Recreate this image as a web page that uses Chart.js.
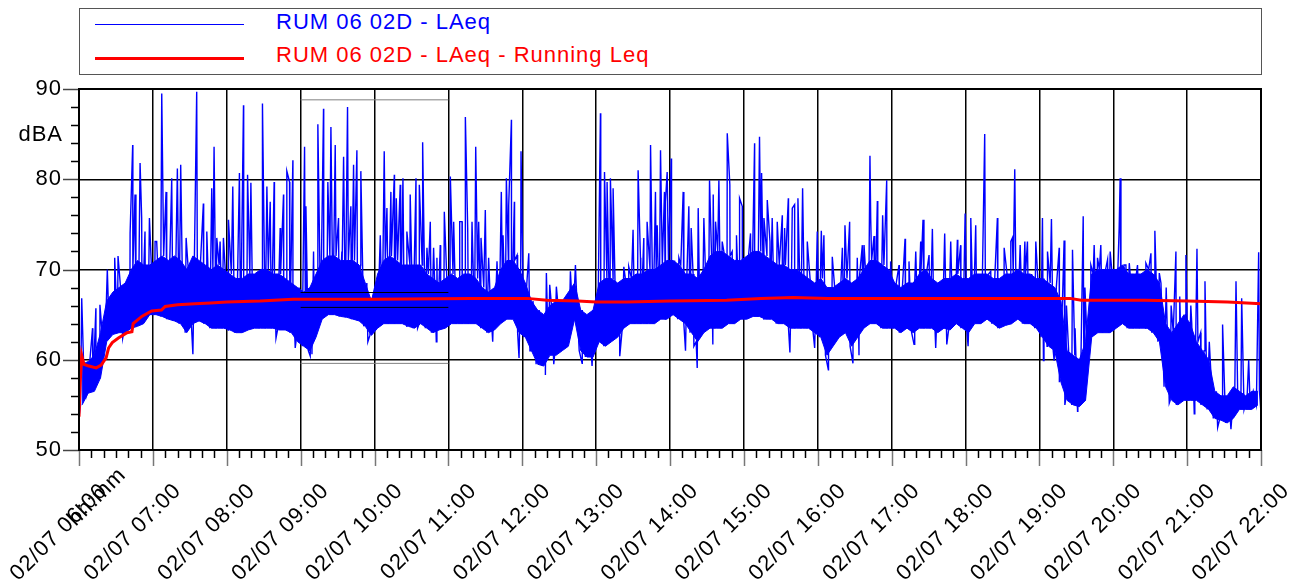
<!DOCTYPE html>
<html>
<head>
<meta charset="utf-8">
<script src="https://cdn.jsdelivr.net/npm/chart.js@4.4.1/dist/chart.umd.min.js"></script>
<style>
  body { margin: 0; background: #fff; font-family: "Liberation Sans", Arial, sans-serif; }
  #wrap { position: relative; width: 1297px; height: 579px; }
  #legend { position: absolute; left: 79px; top: 8px; width: 1181px; height: 65px; border: 1px solid #555; background: #fff; }
  .key { position: absolute; left: 15px; width: 149px; }
  .lbl { position: absolute; left: 196px; font-size: 22px; letter-spacing: 1px; line-height: 26px; white-space: nowrap; }
</style>
</head>
<body>
<div id="wrap">
  <canvas id="chart" width="1297" height="579"></canvas>
  <div id="legend">
    <div class="key" style="top:15px;height:1px;background:#0000ff"></div>
    <div class="lbl" style="top:0px;color:#0000ff">RUM 06 02D - LAeq</div>
    <div class="key" style="top:48px;height:3px;background:#ff0000"></div>
    <div class="lbl" style="top:33px;color:#ff0000">RUM 06 02D - LAeq - Running Leq</div>
  </div>
</div>
<script>
// minutes after 02/07 06:00, one slot = 5 minutes
var slotMinutes = 5;

var tickLabels = ['02/07 06:00', '02/07 07:00', '02/07 08:00', '02/07 09:00', '02/07 10:00',
    '02/07 11:00', '02/07 12:00', '02/07 13:00', '02/07 14:00', '02/07 15:00', '02/07 16:00',
    '02/07 17:00', '02/07 18:00', '02/07 19:00', '02/07 20:00', '02/07 21:00', '02/07 22:00'];

// bottom / top of the dense LAeq band, per 5 min slot (one row per hour)
var bandLow = [
    55, 56.3, 56.5, 58, 62, 62.8, 63, 63, 63.5, 63.7, 64, 65,
    65, 64.8, 64.5, 64.3, 64, 63, 64, 64.3, 64, 63.5, 63.5, 63.5,
    63.3, 63, 63, 63.3, 63.5, 63.5, 63.5, 63.5, 63.3, 63.3, 63, 62,
    61.5, 61, 62.5, 64.5, 65, 65, 64.8, 64.7, 64.5, 64.3, 63.7, 62.7,
    63.5, 64, 64, 64, 64, 63.7, 63.5, 64, 63.5, 63, 63.3, 63.5,
    64, 64, 64, 64, 64, 63.5, 63, 63.3, 64, 64.5, 64.5, 63,
    62.5, 61, 59.5, 59.3, 60.5, 60.5, 61, 61.5, 64.5, 61, 60.3, 60.3,
    62, 61.5, 62, 62.5, 63.5, 64, 64, 64, 64, 64, 64.5, 64.5,
    65, 64.5, 64, 63, 62, 63, 63.5, 63.5, 63.5, 64, 64, 64.5,
    64.5, 64.8, 64.8, 64.5, 64.5, 64, 64, 63.5, 63.5, 63.5, 63.5, 63,
    62.5, 60.5, 61.5, 62.5, 63, 61.5, 62.5, 63.5, 64, 64, 63.5, 63.5,
    63.5, 63, 63.5, 63, 63.5, 63.5, 63.5, 63, 63.5, 63.3, 64, 63.5,
    63, 64, 64, 64.5, 64, 63.5, 63.8, 64, 64.5, 64, 64, 63.5,
    62.5, 61.5, 61, 57.5, 55.5, 55, 54.8, 55.5, 62.5, 63, 63, 63,
    63.5, 64, 63.5, 63.5, 63.5, 63.5, 63, 62, 57, 55.5, 55, 55.5,
    55.5, 55.5, 55, 54.5, 53.5, 53.3, 53, 53.5, 54.5, 54.5, 54.5, 55
];
var bandHigh = [
    59.5, 59.8, 60.5, 63, 66.5, 67.5, 68, 68.5, 70, 71, 70.5, 70.5,
    71, 71.5, 71, 71.5, 71, 70, 71.5, 71, 70.5, 70, 70.5, 70,
    69.5, 69, 69, 69.5, 69.5, 70, 70, 69.5, 69.5, 69, 68.5, 68,
    67.5, 68, 69.5, 71, 71.5, 71.5, 71, 71, 71, 70.5, 68.5, 66.5,
    69.5, 71, 71.5, 71, 70.5, 70.5, 70.5, 70.5, 69.5, 69, 68.5, 69,
    69.5, 69, 69.5, 69.5, 69, 68, 67.5, 68, 70, 71, 71, 70,
    68.5, 66.5, 65.5, 65, 66, 66.5, 66.5, 67.5, 68.5, 65.5, 65, 65.5,
    68.5, 69, 69, 68.5, 69, 69, 69.5, 69.5, 70, 70, 70.5, 71,
    71, 70.5, 69.5, 69.5, 69, 70, 71.5, 72, 72, 71.5, 71, 71,
    71.5, 72, 72, 71.5, 71, 70.5, 70.5, 70, 70, 69.5, 69, 68.5,
    69, 68, 68, 68.5, 69, 68.5, 69, 70, 71, 71, 70.5, 70,
    68.5, 68, 68.5, 68.5, 69.5, 70, 69, 68.5, 69, 69, 69.5, 69,
    69, 69.5, 69.5, 69.5, 69, 69, 69.5, 69.5, 70, 69.5, 69.5, 69,
    69, 68.5, 68, 66.5, 61, 60.5, 60, 62, 69.5, 70, 70, 70,
    70, 70.5, 69.5, 69.5, 69.5, 70, 69.5, 68.5, 64, 63, 64, 65,
    64, 62, 61, 60, 56.5, 56, 56, 57, 56.5, 56, 56.5, 56.5
];

// single peaks above the band
var spikeTimes = [
    2.2, 11, 13.7, 17, 23, 29, 31.7, 41.5, 43.6, 45.5, 49.6, 50.9, 53.6, 57.2,
    61.8, 63.1, 67.2, 70.7, 75.3, 79.9, 82.6, 87, 95.6, 101, 103.8, 107.8, 109.7, 111.9, 114.6, 117.3,
    121.4, 124.9, 130.3, 133.6, 136.9, 139.6, 149, 152.6, 155.3, 158.5, 163.4, 166.1, 168.8, 171, 173.7,
    183.2, 184.3, 190.5, 194, 198.6, 202.1, 204.6, 208.1, 210.8, 213.5, 214.9, 218.1, 220.8, 223, 225.7, 228.9, 233.8,
    244.7, 247.9, 250.1, 253.3, 256.1, 257.7, 260.9, 263.1, 266.3, 269, 273.7, 276.4, 279.1, 279.9, 282.6, 285.3, 288, 290.7, 293.4, 296.7,
    301.6, 304.3, 309.2, 311.1, 313.8, 315.7, 319.2, 322.2, 324.6, 326.5, 330, 332.7, 339.5, 343, 344.4, 347.1, 349, 351.2, 353.6, 355.8, 359,
    365.3, 379.6, 382.3, 387.7, 399.1, 403.2,
    423.5, 426.8, 428.9, 431.6, 433.8, 442.5, 446.5, 450, 454.1, 456, 458.7, 461.4, 464.2, 468.2, 469.6, 472.3, 475.5, 476.3, 477.7,
    481, 487.2, 490.7, 495.3, 497.2, 502.9, 507.5, 512.1, 515.1, 517, 519.7, 522.4, 526.5, 528.6, 530.5, 534, 536.5, 538.7,
    543.3, 545.4, 548.7, 552.7, 554.4, 556.3, 559, 561.2, 563, 567.1, 571.2, 573.1, 576.1, 579.3, 581.2, 583.9, 587.7, 591.5, 599.6,
    602.9, 605, 611.8, 620, 622.1, 625.9, 632.1, 636.2, 637.6, 642.4, 643, 645.7, 648.4, 652.7, 656, 659.2,
    666, 670.9, 674.1, 679.6, 683.6, 685.5, 690.4, 693.1, 703.1, 708, 713.4, 716.1, 719.7,
    724.3, 728.3, 735.6, 740.5, 745.9, 751.4, 756.8, 758.1, 760, 764.4, 768.2, 770.3, 777.1,
    782.5, 786.6, 789.8, 796.1, 800.1, 802, 806.9, 809, 815.6, 817, 821.8, 824.5, 827.2, 829.9, 835.4, 837.5,
    844.8, 845.6, 850.3, 853, 859.7, 866.5, 870.6, 873.8, 877.4, 883, 887, 890.9, 894, 899,
    903, 908, 911, 914.5, 918, 928.8, 939.7, 944.3, 950, 958.1
];
var spikeValues = [
    66.8, 63.5, 65.7, 66.1, 70, 71.3, 71.5, 74, 83.8, 78.3, 81.8, 75.7, 74.2, 75.7,
    73.1, 73.1, 89.5, 78.6, 80.1, 81.2, 81.6, 73.5, 89.7, 77.3, 74.2, 79, 83.6, 73.5, 73.1, 73.5,
    75.5, 79.2, 80.7, 88.2, 80.5, 79.6, 88.4, 79.2, 77.5, 79.7, 74.6, 78.3, 80.9, 79.7, 82.1,
    83.6, 77, 72, 86.1, 87.8, 79.7, 85.8, 83.8, 75.7, 72, 82.5, 88, 77, 81.6, 83.2, 80.9, 67.9,
    73.8, 83.1, 76.8, 78.6, 80.5, 77.9, 79.4, 80.1, 74.2, 78.3, 80.1, 79.4, 84.1, 76.4, 72.4, 75.3, 72.4, 71.3, 72.7, 76.4,
    80.3, 75.3, 75.3, 75.3, 86.9, 74.6, 75.3, 83.6, 75.3, 73.5, 76.6, 71.3, 70.9, 78.6, 73.8, 80.1, 77.1, 86.6, 77.5, 71.6, 83.1,
    71.8, 69.6, 68.3, 68.1, 69.8, 70.5,
    87.3, 80.8, 79.7, 80.1, 79, 70.3, 70.3, 74.4, 81, 71.3, 73.5, 75.3, 83.8, 78.6, 74.9, 83.2, 78.6, 77.5, 80.8,
    82.3, 71.3, 78.6, 77, 74.6, 76.8, 75.7, 79.9, 78.3, 75.3, 79.9, 73.1, 85.1, 79.4, 72, 73.8, 77.9, 77,
    70.5, 74, 84, 84.7, 80.7, 75.7, 77.7, 73.1, 75.7, 75.3, 76, 74.6, 77.9, 76.8, 77.2, 77.9, 79, 73.1, 74.2,
    74.3, 73.8, 71.4, 72.4, 74.9, 75.3, 71.3, 72.7, 72.7, 82.6, 75.7, 73.7, 77.6, 76, 79.9, 70.9,
    70.5, 73.4, 70.9, 72, 73.1, 75.5, 71.6, 74.5, 74, 73.1, 73.3, 72.7, 76.2,
    75.7, 74.9, 85, 69.8, 75.7, 72.4, 73.1, 73.5, 81.1, 72.7, 73.1, 73.1, 73.1,
    75.7, 72, 75.6, 72.4, 73.2, 66, 72.2, 63.5, 75.9, 68, 70.5, 72.7, 71.3, 72.7, 71.1, 72,
    74.6, 80.1, 70.5, 70.7, 70.5, 70.7, 71.8, 74.3, 69.6, 68, 66, 72, 67, 71.6,
    66, 72.3, 63, 68.7, 62, 63.9, 68.7, 66.8, 60, 71.9
];

// single drops below the band
var dipTimes = [
    0.3, 35.5, 92.5, 160, 175.6, 181, 187.8, 189.2, 234.6, 275, 290.2, 336, 357.4, 367.2, 378.8, 385.6,
    408.6, 416.7, 439.2, 492.6, 499.4, 502.1, 514.8, 577.4, 597.5, 608.6, 628.6, 633.5, 678.2, 695.8,
    704.8, 722.1, 783.3, 792, 800.7, 811, 885.5, 905.8, 924.8, 935.6, 959.8
];
var dipValues = [
    54, 62.4, 60.6, 62.4, 61.3, 62, 60.4, 60.6, 62, 63.5, 62, 62, 60.2, 61, 58.3, 59.5,
    59.6, 59.3, 60.4, 61, 61.5, 59.1, 61.7, 60.8, 61.3, 58.9, 59.6, 60.5, 61.7, 61.3,
    61.7, 61.5, 59.9, 59.9, 55, 54.3, 55.2, 54, 52.5, 52.3, 54.5
];

// running Leq
var runTimes = [0, 1, 2.2, 4, 8, 14, 18, 22, 24, 27, 32, 39, 43, 44, 51, 59, 67, 70, 80, 94, 107, 120,
    147, 174, 240, 318, 364, 380, 405, 420, 445, 480, 526, 554, 580, 608, 700, 805, 814, 865, 900, 933, 960];
var runValues = [53.7, 57.5, 60.5, 59.5, 59.3, 59.1, 59.4, 60.2, 61.3, 61.9, 62.4, 63, 63.1, 64, 64.8, 65.4,
    65.5, 65.9, 66.1, 66.2, 66.3, 66.4, 66.5, 66.7, 66.7, 66.8, 66.8, 66.6, 66.5, 66.4, 66.4, 66.5, 66.6,
    66.8, 66.9, 66.8, 66.8, 66.8, 66.6, 66.6, 66.5, 66.4, 66.2];

// overlay boxes 09:00 - 11:00
var boxTimes = [180, 300];
var boxOuter = [88.8, 59.6];
var boxInner = [67.45, 65.8];

function pts(xs, ys) {
    return xs.map(function (x, i) { return { x: x, y: ys[i] }; });
}

var lowPts = bandLow.map(function (v, i) { return { x: i * slotMinutes + 2.5, y: v }; });
var highPts = bandHigh.map(function (v, i) { return { x: i * slotMinutes + 2.5, y: v }; });

var laeqPts = [];
bandLow.forEach(function (v, i) {
    laeqPts.push({ x: i * slotMinutes + 1.25, y: v });
    laeqPts.push({ x: i * slotMinutes + 3.75, y: bandHigh[i] });
});
laeqPts = laeqPts.concat(pts(spikeTimes, spikeValues), pts(dipTimes, dipValues));
laeqPts.sort(function (a, b) { return a.x - b.x; });

function hline(y) {
    return [{ x: boxTimes[0], y: y }, { x: boxTimes[1], y: y }];
}

var FONT = '22px "Liberation Sans", Arial, sans-serif';

var decor = {
    id: 'decor',
    beforeUpdate: function (chart) { chart.ctx.letterSpacing = '1px'; },
    beforeDraw: function (chart) { chart.ctx.letterSpacing = '1px'; },
    afterDraw: function (chart) {
        var ctx = chart.ctx, a = chart.chartArea;
        var xs = chart.scales.x, ys = chart.scales.y;
        ctx.save();
        ctx.lineWidth = 1.5;
        // y ticks
        for (var v = 50; v <= 90; v += 2) {
            var py = Math.round(ys.getPixelForValue(v)) + 0.5;
            ctx.strokeStyle = v % 10 === 0 ? '#444' : '#000';
            ctx.beginPath();
            ctx.moveTo(v % 10 === 0 ? a.left - 16 : a.left - 8, py);
            ctx.lineTo(a.left, py);
            ctx.stroke();
        }
        // x ticks
        for (var m = 0; m <= 960; m += 10) {
            var px = Math.round(xs.getPixelForValue(m)) + 0.5;
            ctx.strokeStyle = m % 60 === 0 ? '#777' : '#000';
            ctx.beginPath();
            ctx.moveTo(px, a.bottom);
            ctx.lineTo(px, m % 60 === 0 ? a.bottom + 16 : a.bottom + 8);
            ctx.stroke();
        }
        // frame
        ctx.strokeStyle = '#000';
        ctx.lineWidth = 2;
        ctx.strokeRect(a.left, a.top, a.right - a.left, a.bottom - a.top);
        // texts
        ctx.fillStyle = '#000';
        ctx.font = FONT;
        ctx.letterSpacing = '1px';
        ctx.textAlign = 'right';
        ctx.textBaseline = 'middle';
        ctx.fillText('dBA', 63, 135);
        ctx.translate(97, 497);
        ctx.rotate(-Math.PI / 4);
        ctx.textAlign = 'center';
        ctx.fillText('hh:mm', 0, 0);
        ctx.restore();
    }
};

Chart.defaults.font.family = '"Liberation Sans", Arial, sans-serif';
Chart.defaults.font.size = 22;
Chart.defaults.color = '#000';

new Chart(document.getElementById('chart'), {
    type: 'line',
    data: {
        datasets: [
            { label: 'RUM 06 02D - LAeq - Running Leq', data: pts(runTimes, runValues), borderColor: '#ff0000', borderWidth: 3, order: 0 },
            { label: 'box', data: hline(boxOuter[0]), borderColor: '#808080', borderWidth: 1, order: 1 },
            { label: 'box', data: hline(boxOuter[1]), borderColor: '#808080', borderWidth: 1, order: 1 },
            { label: 'box', data: hline(boxInner[0]), borderColor: '#000', borderWidth: 1, order: 1 },
            { label: 'box', data: hline(boxInner[1]), borderColor: '#000', borderWidth: 1, order: 1 },
            { label: 'RUM 06 02D - LAeq', data: laeqPts, borderColor: '#0000ff', borderWidth: 1.4, order: 2 },
            { label: 'band', data: highPts, borderColor: '#0000ff', borderWidth: 1, backgroundColor: '#0000ff', fill: 7, order: 3 },
            { label: 'band', data: lowPts, borderColor: '#0000ff', borderWidth: 1, order: 4 }
        ]
    },
    options: {
        responsive: false,
        animation: false,
        events: [],
        elements: { point: { radius: 0 }, line: { tension: 0 } },
        layout: { padding: { left: 0, top: 89, right: 36, bottom: 0 }, autoPadding: false },
        plugins: { legend: { display: false }, tooltip: { enabled: false } },
        scales: {
            x: {
                type: 'linear', min: 0, max: 960, z: 1,
                grid: { color: '#000', lineWidth: 1.5, drawTicks: false },
                border: { color: '#000', width: 2 },
                ticks: {
                    stepSize: 60, autoSkip: false, minRotation: 45, maxRotation: 45,
                    labelOffset: 25, padding: 28,
                    callback: function (v) { return tickLabels[v / 60]; }
                },
                afterFit: function (s) { s.height = 129; s.paddingLeft = 0; s.paddingRight = 0; }
            },
            y: {
                min: 50, max: 90, z: 1,
                grid: { color: '#000', lineWidth: 1.5, drawTicks: false },
                border: { color: '#000', width: 2 },
                ticks: { stepSize: 10, padding: 17 },
                afterFit: function (s) { s.width = 79; }
            }
        }
    },
    plugins: [decor]
});
</script>
</body>
</html>
